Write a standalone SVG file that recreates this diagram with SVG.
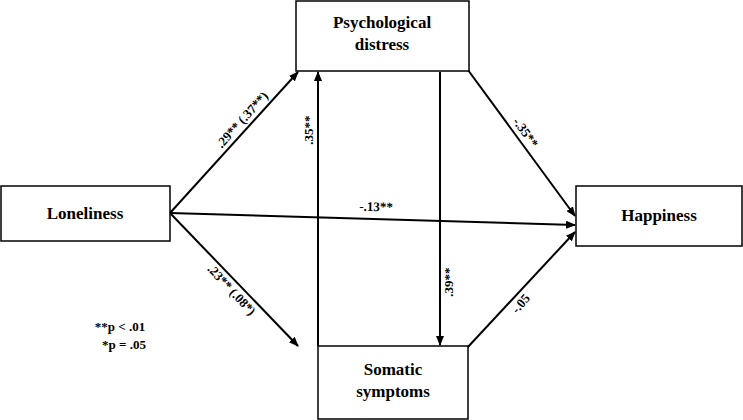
<svg xmlns="http://www.w3.org/2000/svg" width="743" height="420" viewBox="0 0 743 420">
<style>
.box{fill:#fff;stroke:#000;stroke-width:1.5}
.t{font-family:"Liberation Serif",serif;font-weight:bold;font-size:17px;text-anchor:middle}
.l{font-family:"Liberation Serif",serif;font-weight:bold;font-size:13px;text-anchor:middle}
.c{stroke:#000;stroke-width:2;fill:none;marker-end:url(#a)}
</style>
<defs><marker id="a" markerWidth="10" markerHeight="8" refX="9" refY="4" orient="auto" markerUnits="userSpaceOnUse"><path d="M0,0L10,4L0,8z"/></marker></defs>
<rect width="743" height="420" fill="#fff"/>
<g id="connectors">
<line class="c" x1="170" y1="213" x2="298" y2="72"/>
<line class="c" x1="170" y1="213" x2="298" y2="346"/>
<line class="c" x1="170" y1="213" x2="575" y2="225"/>
<line class="c" x1="468" y1="70" x2="575" y2="216"/>
<line class="c" x1="467" y1="348" x2="575" y2="232"/>
<line class="c" x1="318" y1="346" x2="318" y2="72"/>
<line class="c" x1="440" y1="72" x2="440" y2="345"/>
</g>
<g id="labels">
<text class="l" transform="translate(249,126) rotate(-48)" dy="-5">.29** (.37**)</text>
<text class="l" transform="translate(238,284) rotate(47)" dy="13">.23** (.08*)</text>
<text class="l" transform="translate(318,130) rotate(-90)" dy="-5">.35**</text>
<text class="l" transform="translate(440,282) rotate(-90)" dy="13">.39**</text>
<text class="l" transform="translate(518,138) rotate(54)" dy="-5">-.35**</text>
<text class="l" transform="translate(514,298) rotate(-50)" dy="13">-.05</text>
<text class="l" transform="translate(376,211) rotate(1.5)">-.13**</text>
<text class="l" x="120" y="331">**p &lt; .01</text>
<text class="l" x="124" y="349">*p = .05</text>
</g>
<g id="loneliness"><rect class="box" x="1" y="186" width="169" height="55"/><text class="t" x="85" y="219">Loneliness</text></g>
<g id="distress"><rect class="box" x="296" y="1" width="173" height="70"/><text class="t" x="382" y="28">Psychological</text><text class="t" x="382" y="50">distress</text></g>
<g id="happiness"><rect class="box" x="576" y="186" width="166" height="60"/><text class="t" x="659" y="221">Happiness</text></g>
<g id="somatic"><rect class="box" x="318" y="346" width="150" height="73"/><text class="t" x="393" y="375">Somatic</text><text class="t" x="393" y="397">symptoms</text></g>
</svg>
